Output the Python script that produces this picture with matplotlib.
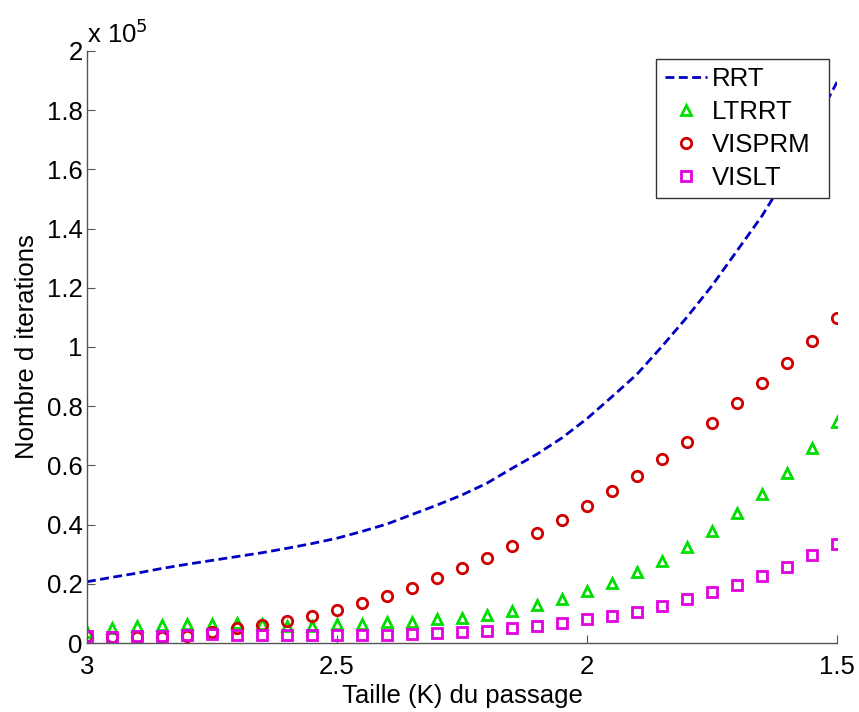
import numpy as np
import matplotlib
matplotlib.use("Agg")
import matplotlib.pyplot as plt
from matplotlib.ticker import FuncFormatter, FixedLocator

plt.rcParams['font.family'] = ['Liberation Sans', 'DejaVu Sans']

taille = [3.0, 2.95, 2.9, 2.85, 2.8, 2.75, 2.7, 2.65, 2.6, 2.55, 2.5, 2.45, 2.4, 2.35, 2.3,
          2.25, 2.2, 2.15, 2.1, 2.05, 2.0, 1.95, 1.9, 1.85, 1.8, 1.75, 1.7, 1.65, 1.6, 1.55, 1.5]

rrt = [20700, 22200, 23600, 25200, 26600, 27900, 29200, 30500, 32000, 33600, 35400, 37700,
       40200, 43400, 46600, 50000, 54000, 59000, 63800, 69300, 75800, 83200, 90800, 100200,
       110100, 120700, 132500, 144300, 158000, 173500, 189500]

ltrrt = [3800, 5200, 5700, 6100, 6300, 6400, 6600, 6300, 5800, 5800, 6300, 6300, 7000, 7000,
         8000, 8600, 9500, 10900, 12800, 14900, 17600, 20400, 24100, 27800, 32500, 37900,
         43800, 50300, 57500, 65800, 74800]

visprm = [2400, 2000, 2000, 2000, 2500, 3800, 5000, 6100, 7400, 9100, 11100, 13500, 16000,
          18700, 21900, 25200, 28800, 32900, 37100, 41600, 46300, 51300, 56500, 62300, 68000,
          74300, 81000, 87700, 94500, 102100, 109700]

vislt = [2400, 2100, 2200, 2400, 2700, 3000, 2700, 2700, 2700, 2700, 2700, 2700, 2700, 3000,
         3300, 3800, 4200, 5000, 5700, 6600, 8000, 9200, 10600, 12500, 14800, 17100, 19600,
         22600, 25800, 29700, 33500]

yticks = [0, 20000, 40000, 60000, 80000, 100000, 120000, 140000, 160000, 180000, 200000]
xticks = [3, 2.5, 2, 1.5]

fig = plt.figure(figsize=(8.59, 7.12), dpi=100)
ax = fig.add_axes([0.1013, 0.0969, 0.8731, 0.8315])

ax.plot(taille, rrt, linestyle=(0, (3.2, 1.6)), color='#0000c0', linewidth=2.0, label='RRT')
ax.plot(taille, ltrrt, linestyle='none', marker='^', markersize=7.5, markerfacecolor='none',
        markeredgecolor='#00dd00', markeredgewidth=2.0, label='LTRRT')
ax.plot(taille, visprm, linestyle='none', marker='o', markersize=7.5, markerfacecolor='none',
        markeredgecolor='#d00000', markeredgewidth=2.0, label='VISPRM')
ax.plot(taille, vislt, linestyle='none', marker='s', markersize=6.5, markerfacecolor='none',
        markeredgecolor='#e000e0', markeredgewidth=2.0, label='VISLT')

ax.set_xlim(3, 1.5)
ax.set_ylim(0, 200000)
ax.xaxis.set_major_locator(FixedLocator(xticks))
ax.yaxis.set_major_locator(FixedLocator(yticks))
ax.xaxis.set_major_formatter(FuncFormatter(lambda v, p: f"{v:g}"))
ax.yaxis.set_major_formatter(FuncFormatter(lambda v, p: f"{v/1e5:g}"))

for s in ['top', 'right']:
    ax.spines[s].set_visible(False)
for s in ['left', 'bottom']:
    ax.spines[s].set_color('#555555')
    ax.spines[s].set_linewidth(1.0)

ax.tick_params(direction='in', length=6, width=0.8, color='#555555', labelsize=18.5)
ax.tick_params(axis='x', pad=8.5)
ax.tick_params(axis='y', pad=3)

ax.set_xlabel('Taille (K) du passage', fontsize=18.5, labelpad=4)
ax.set_ylabel("Nombre d iterations", fontsize=18.5, labelpad=6)

ax.text(0.0, 1.005, r'x 10$^{5}$', transform=ax.transAxes, fontsize=18.5,
        ha='left', va='bottom')

leg = ax.legend(loc='upper right', bbox_to_anchor=(0.7587, 0.70, 0.2306, 0.2865),
                mode='expand', fontsize=18.5,
                frameon=True, fancybox=False, framealpha=1.0, handlelength=1.65,
                handletextpad=0.2, borderpad=0.33, labelspacing=0.34, borderaxespad=0.0)
leg.get_frame().set_edgecolor('#333333')
leg.get_frame().set_linewidth(1.0)

fig.savefig('out.png', dpi=100)
